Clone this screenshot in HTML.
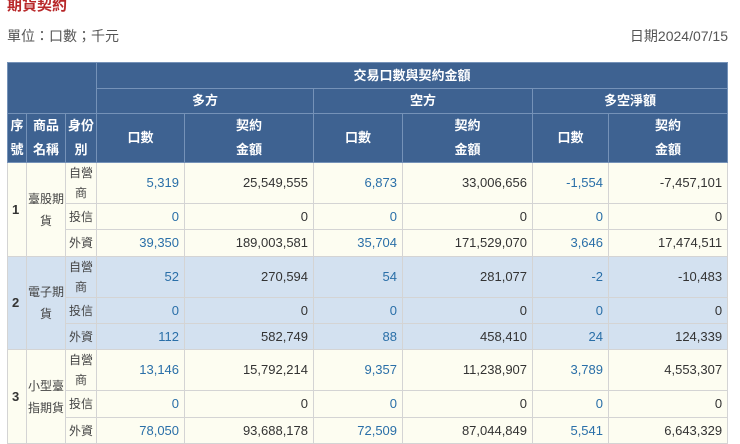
<!DOCTYPE html>
<html><head><meta charset="utf-8"><style>
body{margin:0;width:740px;height:442px;overflow:hidden;background:#fff;font-family:"Liberation Sans","Noto Sans CJK TC",sans-serif;position:relative}
.t{position:absolute;left:7px;top:-6px;color:#b8282a;font-weight:bold;font-size:15px}
.u{position:absolute;left:7px;top:26px;color:#555;font-size:14px}
.d{position:absolute;right:12px;top:26px;color:#555;font-size:14px}
table{position:absolute;left:7px;top:62px;border-collapse:collapse;table-layout:fixed;width:720px;font-size:13px}
th{background:#3e6291;color:#fff;border:1px solid #7592b8;font-weight:bold;padding:0;line-height:24px;white-space:nowrap;overflow:hidden}
td{border:1px solid #d4d4d4;padding:0 5px;text-align:right;color:#333;line-height:18px;white-space:nowrap;overflow:hidden}
td.c{text-align:center;padding:0;font-size:12px;color:#444}
td.l{text-align:left;padding:0 4px;font-weight:bold}
td.b{color:#2a6fa8}
tr.y td{background:#fdfdf1}
tr.g td{background:#d3e1f0}
</style></head><body>
<div class="t">期貨契約</div>
<div class="u">單位：口數；千元</div>
<div class="d">日期2024/07/15</div>
<table>
<colgroup><col style="width:19px"><col style="width:39px"><col style="width:31px"><col style="width:88px"><col style="width:129px"><col style="width:89px"><col style="width:130px"><col style="width:76px"><col style="width:119px"></colgroup>
<tr style="height:26px"><th colspan="3" rowspan="2"></th><th colspan="6">交易口數與契約金額</th></tr>
<tr style="height:25px"><th colspan="2">多方</th><th colspan="2">空方</th><th colspan="2">多空淨額</th></tr>
<tr style="height:47px"><th>序<br>號</th><th>商品<br>名稱</th><th>身份<br>別</th><th>口數</th><th>契約<br>金額</th><th>口數</th><th>契約<br>金額</th><th>口數</th><th>契約<br>金額</th></tr>
<tr class="y" style="height:41px"><td class="l" rowspan="3">1</td><td class="c" rowspan="3" style="line-height:22px">臺股期<br>貨</td><td class="c" style="line-height:20px">自營<br>商</td><td class="b">5,319</td><td>25,549,555</td><td class="b">6,873</td><td>33,006,656</td><td class="b">-1,554</td><td>-7,457,101</td></tr>
<tr class="y" style="height:26px"><td class="c">投信</td><td class="b">0</td><td>0</td><td class="b">0</td><td>0</td><td class="b">0</td><td>0</td></tr>
<tr class="y" style="height:27px"><td class="c">外資</td><td class="b">39,350</td><td>189,003,581</td><td class="b">35,704</td><td>171,529,070</td><td class="b">3,646</td><td>17,474,511</td></tr>
<tr class="g" style="height:41px"><td class="l" rowspan="3">2</td><td class="c" rowspan="3" style="line-height:22px">電子期<br>貨</td><td class="c" style="line-height:20px">自營<br>商</td><td class="b">52</td><td>270,594</td><td class="b">54</td><td>281,077</td><td class="b">-2</td><td>-10,483</td></tr>
<tr class="g" style="height:26px"><td class="c">投信</td><td class="b">0</td><td>0</td><td class="b">0</td><td>0</td><td class="b">0</td><td>0</td></tr>
<tr class="g" style="height:26px"><td class="c">外資</td><td class="b">112</td><td>582,749</td><td class="b">88</td><td>458,410</td><td class="b">24</td><td>124,339</td></tr>
<tr class="y" style="height:40px"><td class="l" rowspan="3">3</td><td class="c" rowspan="3" style="line-height:22px">小型臺<br>指期貨</td><td class="c" style="line-height:20px">自營<br>商</td><td class="b">13,146</td><td>15,792,214</td><td class="b">9,357</td><td>11,238,907</td><td class="b">3,789</td><td>4,553,307</td></tr>
<tr class="y" style="height:27px"><td class="c">投信</td><td class="b">0</td><td>0</td><td class="b">0</td><td>0</td><td class="b">0</td><td>0</td></tr>
<tr class="y" style="height:26px"><td class="c">外資</td><td class="b">78,050</td><td>93,688,178</td><td class="b">72,509</td><td>87,044,849</td><td class="b">5,541</td><td>6,643,329</td></tr>
</table>
</body></html>
